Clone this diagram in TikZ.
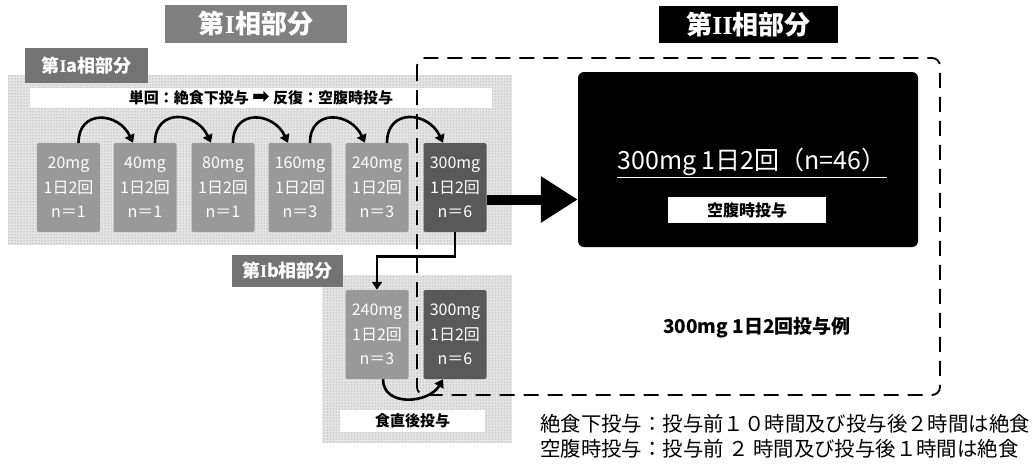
\documentclass[tikz,border=0pt]{standalone}
\usepackage{fontspec}
\setmainfont{Noto Sans CJK JP}
\newfontfamily\arrowfont{DejaVu Sans}
\newfontfamily\romfont{Liberation Serif}
\usetikzlibrary{calc,patterns,positioning,arrows.meta}

\begin{document}
\begin{tikzpicture}[x=1pt,y=1pt,
  zone/.style={fill=black!10,postaction={pattern=dots,pattern color=black!50}},
  tag/.style={fill=black!55,text=white,inner sep=0pt,font=\bfseries\fontsize{18}{18}\selectfont},
  dose/.style={fill=black!40,text=white,rounded corners=2pt,minimum width=63pt,minimum height=89pt,
    align=center,inner sep=0pt,font=\fontsize{16}{24.5}\selectfont},
  hidose/.style={dose,fill=black!65},
  bar/.style={fill=white,inner sep=0pt,font=\bfseries\fontsize{15}{15}\selectfont},
  hop/.style={-{Triangle[width=10pt,length=8pt]},line width=2.6pt}]
  \useasboundingbox (0,0) rectangle (1035,-466);
  % shaded areas of part I
  \path[zone] (8,-75) rectangle (512,-245);
  \path[zone] (322,-275) rectangle (512,-443);
  % titles
  \node[tag,fill=black!50,minimum width=182pt,minimum height=38pt,font=\bfseries\fontsize{26}{26}\selectfont] (t1) at (256,-24) {第{\romfont I}相部分};
  \node[tag,fill=black,minimum width=179pt,minimum height=37pt,font=\bfseries\fontsize{26}{26}\selectfont] (t2) at (748.5,-24.5) {第{\romfont II}相部分};
  \node[tag,minimum width=123pt,minimum height=35pt] (ta) at (86.5,-65.5) {第{\romfont I}a相部分};
  \node[tag,minimum width=111pt,minimum height=32pt] (tb) at (287.5,-271) {第{\romfont I}b相部分};
  \node[bar,minimum width=462pt,minimum height=20pt] (ba) at (261,-98) {単回：絶食下投与 {\arrowfont\fontsize{21}{15}\selectfont ➡} 反復：空腹時投与};
  \node[bar,minimum width=145pt,minimum height=22pt] (bb) at (412.5,-421) {食直後投与};
  % part II frame
  \draw[line width=1.8pt,dash pattern=on 15pt off 9pt,rounded corners=8pt] (417,-58) rectangle (940,-395);
  % part Ia doses
  \node[dose] (d1) at (68.5,-187.5) {20mg\\1日2回\\n＝1};
  \node[dose] (d2) at (145,-187.5) {40mg\\1日2回\\n＝1};
  \node[dose] (d3) at (223,-187.5) {80mg\\1日2回\\n＝1};
  \node[dose] (d4) at (300,-187.5) {160mg\\1日2回\\n＝3};
  \node[dose] (d5) at (377,-187.5) {240mg\\1日2回\\n＝3};
  \node[hidose] (d6) at (455,-187.5) {300mg\\1日2回\\n＝6};
  \foreach \i [count=\j from 2] in {1,...,5}
    \draw[hop] ($(d\i.north)+(10,0)$) to[out=90,in=115,looseness=1.6] ($(d\j.north)+(-12,0)$);
  % part Ib doses
  \node[dose] (e1) at (377,-334.5) {240mg\\1日2回\\n＝3};
  \node[hidose] (e2) at (455,-334.5) {300mg\\1日2回\\n＝6};
  \draw[hop] (d6.south) -- ++(0,-24) -| (e1.north);
  \draw[hop] ($(e1.south)+(6,0)$) to[out=-90,in=-120,looseness=1.2] ($(e2.south)+(-12,0)$);
  % part II
  \node[fill=black,rounded corners=6pt,minimum width=340pt,minimum height=175pt] (res) at (748,-159.5) {};
  \node[text=white,font=\fontsize{25}{25}\selectfont] (rt) at (752,-163) {\underline{300mg 1日2回（n=46）}};
  \node[bar,minimum width=158pt,minimum height=26pt,font=\bfseries\fontsize{16}{16}\selectfont] (rb) at (747,-210) {空腹時投与};
  \draw[-{Triangle[width=44pt,length=37pt]},line width=10pt] (d6.east) ++(0,-12) coordinate (a0) -- (a0 -| res.west);
  \node[font=\bfseries\fontsize{19}{19}\selectfont] (ex) at (757,-328) {300mg 1日2回投与例};
  % notes
  \node[anchor=north west,align=left,inner sep=0pt,font=\fontsize{20.4}{25}\selectfont] (nt) at (540,-414)
    {絶食下投与：投与前１０時間及び投与後２時間は絶食\\空腹時投与：投与前 ２ 時間及び投与後１時間は絶食};
\end{tikzpicture}
\end{document}
